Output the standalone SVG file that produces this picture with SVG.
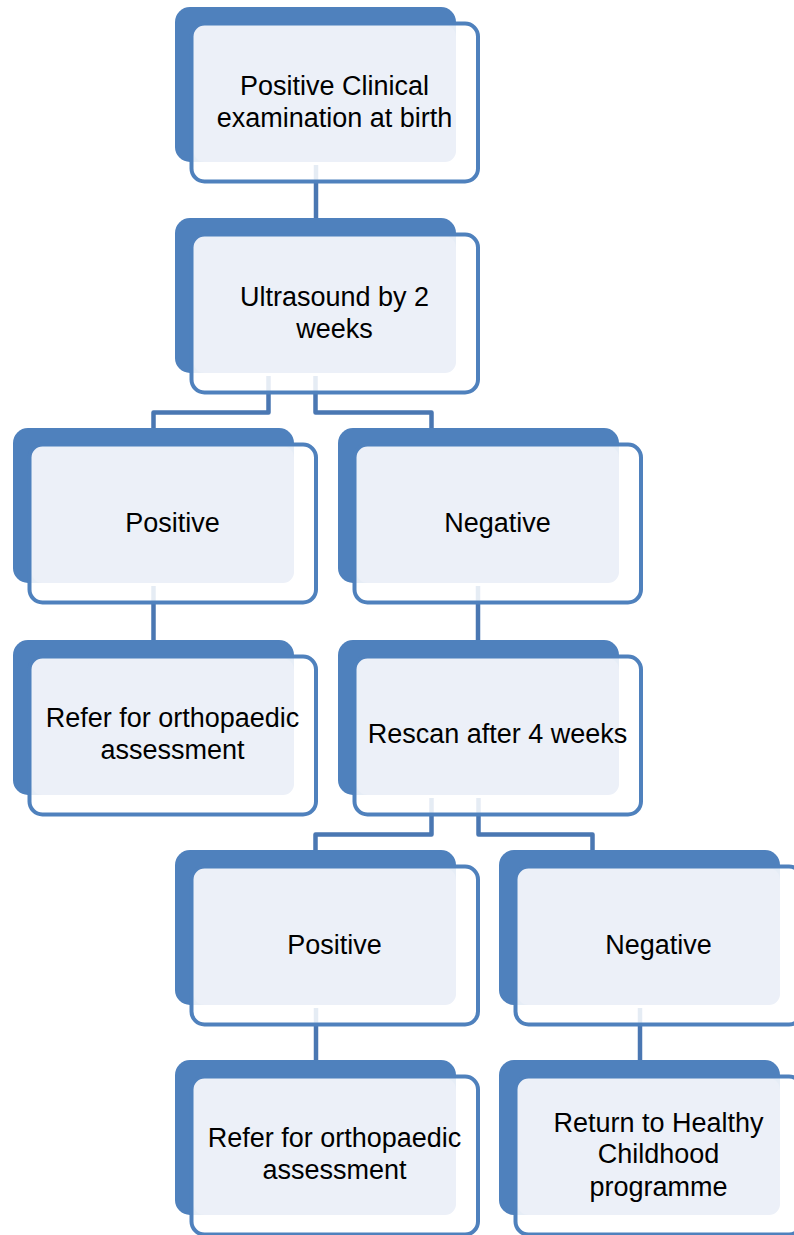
<svg xmlns="http://www.w3.org/2000/svg" width="794" height="1235" viewBox="0 0 794 1235">
<style>
.back{fill:#4F81BD}
.front{fill:#FFFFFF;fill-opacity:0.86;stroke:none}
.light{fill:#ECF0F8}
.edge{fill:none;stroke:#4F81BD;stroke-width:4}
.conn{fill:none;stroke:#4A77B2;stroke-width:4.5;stroke-linejoin:round}
text{font-family:"Liberation Sans",Arial,sans-serif;font-size:27px;fill:#000;text-anchor:middle}
</style>
<defs>
<g id="box">
<rect class="back" x="0" y="0" width="281" height="155" rx="15"/>
<rect class="front" x="16.5" y="16.5" width="286.5" height="158" rx="13"/>
<rect class="light" x="18.5" y="18.5" width="262.5" height="136.5" rx="11"/>
<rect class="edge" x="16.5" y="16.5" width="286.5" height="158" rx="13"/>
</g>
</defs>
<g id="connectors">
<path class="conn" d="M316,165 V222"/>
<path class="conn" d="M268.5,376 V412.5 H153.5 V432"/>
<path class="conn" d="M315.5,376 V412.5 H431.5 V432"/>
<path class="conn" d="M153.5,586 V644"/>
<path class="conn" d="M478,586 V644"/>
<path class="conn" d="M431.5,798 V834.5 H315.5 V854"/>
<path class="conn" d="M478.5,798 V834.5 H592.5 V854"/>
<path class="conn" d="M316,1008 V1064"/>
<path class="conn" d="M640,1008 V1064"/>
</g>
<g id="n1" transform="translate(175,7)"><use href="#box"/><text x="159.5" y="88">Positive Clinical</text><text x="159.5" y="120">examination at birth</text></g>
<g id="n2" transform="translate(175,218)"><use href="#box"/><text x="159.5" y="88">Ultrasound by 2</text><text x="159.5" y="120">weeks</text></g>
<g id="n3" transform="translate(13,428)"><use href="#box"/><text x="159.5" y="104">Positive</text></g>
<g id="n4" transform="translate(338,428)"><use href="#box"/><text x="159.5" y="104">Negative</text></g>
<g id="n5" transform="translate(13,640)"><use href="#box"/><text x="159.5" y="87">Refer for orthopaedic</text><text x="159.5" y="119">assessment</text></g>
<g id="n6" transform="translate(338,640)"><use href="#box"/><text x="159.5" y="103">Rescan after 4 weeks</text></g>
<g id="n7" transform="translate(175,850)"><use href="#box"/><text x="159.5" y="104">Positive</text></g>
<g id="n8" transform="translate(499,850)"><use href="#box"/><text x="159.5" y="104">Negative</text></g>
<g id="n9" transform="translate(175,1060)"><use href="#box"/><text x="159.5" y="87">Refer for orthopaedic</text><text x="159.5" y="119">assessment</text></g>
<g id="n10" transform="translate(499,1060)"><use href="#box"/><text x="159.5" y="72">Return to Healthy</text><text x="159.5" y="103">Childhood</text><text x="159.5" y="136">programme</text></g>
</svg>
